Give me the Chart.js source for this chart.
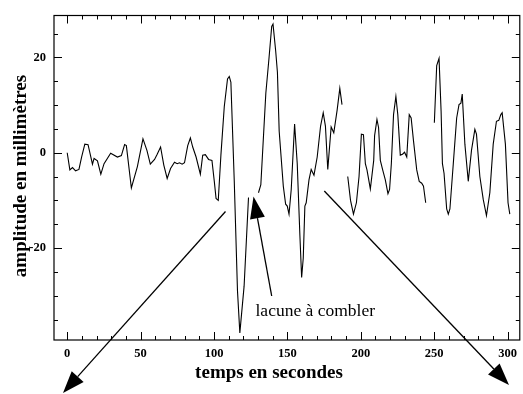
<!DOCTYPE html>
<html>
<head>
<meta charset="utf-8">
<script src="https://cdn.jsdelivr.net/npm/chart.js@4.4.1/dist/chart.umd.min.js"></script>
<style>
  html, body { margin: 0; padding: 0; background: #fff; }
  canvas { display: block; }
</style>
</head>
<body>
<canvas id="chart" width="523" height="394"></canvas>
<script>
// ── Data: seconds / amplitude (mm); null marks a gap in the record ──
const temps = [
  0, 1.8, 3.6, 5.7, 8, 9.8, 12, 14.2, 17.2, 18.3, 20.6, 22.9, 25.1, 29.6, 34.2, 36.9, 39.1, 40.3,
  43.7, 47.8, 51.6, 54.3, 56.6, 59.5, 61.3, 63.6, 65.8, 68.1, 70.4, 73.1, 74.9, 76.5, 78.3, 79.9,
  82.1, 83.9, 85.5, 87.8, 90.7, 92.3, 94.1, 96.3, 98.6, 100.2, 101.4, 102.9, 104.7, 107, 109.2,
  110.4, 111.5, 113.8, 116, 117.6, 120.5, 123.5,
  127,
  130.3, 131.9, 135.3, 137.5, 139.3, 140.2, 142, 143.2, 144.4, 147.2, 148.8, 149.9, 151.1, 152.6,
  154.9, 156.7, 158.5, 159.7, 160.8, 161.9, 162.8, 164.7, 166.2, 168.1, 170.3, 172.6, 174.4, 175.9,
  177.5, 179.8, 181.6, 183.9, 185.7, 187.2,
  189,
  191.1, 193, 195, 197, 198.8, 200.4, 201.8, 203.1, 204.2, 206.5, 208.8, 209.4, 211, 212.1, 213.3,
  214.9, 216.7, 218.5, 219.6, 220.8, 222.3, 223.9, 225.2, 226.9, 228.4, 229.8, 231.3, 233, 234.3,
  235.9, 238.1, 239.8, 241.5, 242.7, 244.2,
  247,
  250.1, 251.7, 253.3, 254.7, 255.6, 256.7, 258.5, 259.6, 260.7, 263, 265.3, 266.9, 268.2, 269.1,
  270.9, 273.2, 275.4, 277.7, 278.8, 281.1, 283.4, 285.6, 287.9, 290.2, 292.4, 294, 295.4, 296.3,
  298.5, 300.3, 301.5,
];
const amplitude = [
  0, -3.6, -3.1, -3.8, -3.5, -0.9, 1.8, 1.7, -2.4, -1.2, -1.7, -4.5, -2.3, -0.1, -0.9, -0.6, 1.7, 1.5,
  -7.4, -2.9, 2.9, 0.5, -2.4, -1.4, -0.3, 1.2, -2.6, -5.4, -3.3, -2, -2.3, -2.1, -2.4, -2.1,
  1.5, 3.1, 1.2, -0.9, -4.5, -0.5, -0.4, -1.4, -1.6, -6, -9.6, -10, -0.5, 9.7, 15.5,
  16, 14.8, -6, -29, -37.8, -28, -9.4,
  null,
  -8.4, -6.7, 12.5, 20, 26.5, 27, 21.4, 16.9, 4.5, -7, -10.8, -11.2, -12.9, -7.7,
  6, -2.3, -17.3, -26.2, -22.1, -11.2, -10.5, -5.7, -3.5, -4.7, -0.9, 5.6, 8.4, 5.6,
  -3.5, 5.4, 4.2, 9, 13.5, 10.1,
  null,
  -5, -10, -12.9, -10.5, -5, 3.9, 3.8, -2.3, -3.6, -7.6, -1.6, 3.6, 7, 5.3, -1.6,
  -3.6, -5.7, -8.6, -7.7, -2.3, 8, 11.8, 8, -0.5, -0.3, 0.1, -0.9, 8, 7.3,
  2.5, -3.6, -6, -6.4, -7, -10.5,
  null,
  6.3, 18.3, 19.8, 8.7, -2.3, -4.3, -11.8, -12.9, -11.8, -2.3, 7.3, 10.1, 10.4, 12.3,
  1.8, -6, 0.5, 4.9, 3.9, -5, -9.8, -13.2, -8.4, 1.8, 6.6, 6.8, 8, 8.4,
  1.8, -10.5, -12.9,
];
const xTicks = [0, 50, 100, 150, 200, 250, 300];
const yTicks = [-20, 0, 20];
const xMinorStep = 10;
const yMinorStep = 5;

const SERIF = "'Liberation Serif', 'Times New Roman', serif";

// ── Frame, inward ticks, titles and annotation arrows ─────────
function arrow(ctx, x1, y1, x2, y2, headLen, headW) {
  const ang = Math.atan2(y2 - y1, x2 - x1);
  const bx = x2 - headLen * Math.cos(ang), by = y2 - headLen * Math.sin(ang);
  ctx.beginPath();
  ctx.moveTo(x1, y1);
  ctx.lineTo(bx, by);
  ctx.stroke();
  ctx.beginPath();
  ctx.moveTo(x2, y2);
  ctx.lineTo(bx + headW / 2 * Math.sin(ang), by - headW / 2 * Math.cos(ang));
  ctx.lineTo(bx - headW / 2 * Math.sin(ang), by + headW / 2 * Math.cos(ang));
  ctx.closePath();
  ctx.fill();
}

const framePlugin = {
  id: 'frame',
  afterDraw(chart) {
    const { ctx, chartArea: a, scales: { x, y } } = chart;
    ctx.save();
    ctx.strokeStyle = '#000';
    ctx.fillStyle = '#000';
    ctx.lineWidth = 1.2;
    ctx.strokeRect(a.left, a.top, a.right - a.left, a.bottom - a.top);

    ctx.lineWidth = 1;
    ctx.beginPath();
    for (let v = Math.ceil(x.min / xMinorStep) * xMinorStep; v <= x.max; v += xMinorStep) {
      const px = Math.round(x.getPixelForValue(v)) + 0.5;
      const len = xTicks.includes(v) ? 8 : 4;
      ctx.moveTo(px, a.bottom); ctx.lineTo(px, a.bottom - len);
      ctx.moveTo(px, a.top);    ctx.lineTo(px, a.top + len);
    }
    for (let v = Math.ceil(y.min / yMinorStep) * yMinorStep; v <= y.max; v += yMinorStep) {
      const py = Math.round(y.getPixelForValue(v)) + 0.5;
      const len = yTicks.includes(v) ? 8 : 4;
      ctx.moveTo(a.left, py);  ctx.lineTo(a.left + len, py);
      ctx.moveTo(a.right, py); ctx.lineTo(a.right - len, py);
    }
    ctx.stroke();

    // axis titles
    ctx.font = `bold 19px ${SERIF}`;
    ctx.textAlign = 'center';
    ctx.textBaseline = 'alphabetic';
    ctx.fillText('temps en secondes', 269, 378);
    ctx.save();
    ctx.translate(26, 176);
    ctx.rotate(-Math.PI / 2);
    ctx.fillText('amplitude en millimètres', 0, 0);
    ctx.restore();

    // annotation
    ctx.font = `17.5px ${SERIF}`;
    ctx.textAlign = 'left';
    ctx.fillText('lacune à combler', 255.5, 316);

    ctx.lineWidth = 1.3;
    arrow(ctx, 225.5, 211.5, 63, 393, 22, 16);
    arrow(ctx, 271.7, 296, 253.5, 196.5, 22, 15);
    arrow(ctx, 324.3, 191, 509, 385, 22, 16);
    ctx.restore();
  },
};

const tickFont = { family: SERIF, weight: 'bold', size: 12.5 };

new Chart(document.getElementById('chart'), {
  type: 'line',
  data: {
    datasets: [{
      data: temps.map((t, i) => ({ x: t, y: amplitude[i] })),
      borderColor: '#000',
      borderWidth: 1.1,
      pointRadius: 0,
      tension: 0,
      spanGaps: false,
    }],
  },
  options: {
    responsive: false,
    animation: false,
    devicePixelRatio: 1,
    layout: { padding: { top: 9, right: 1, left: 0, bottom: 0 } },
    plugins: { legend: { display: false }, tooltip: { enabled: false } },
    scales: {
      x: {
        type: 'linear',
        min: -9,
        max: 308.3,
        grid: { display: false, drawTicks: false },
        border: { display: false },
        afterFit: s => { s.height = 54; },
        afterBuildTicks: s => { s.ticks = xTicks.map(v => ({ value: v })); },
        ticks: { color: '#000', font: tickFont, padding: 6, maxRotation: 0, autoSkip: false },
      },
      y: {
        type: 'linear',
        min: -39.3,
        max: 28.8,
        grid: { display: false, drawTicks: false },
        border: { display: false },
        afterFit: s => { s.width = 54; },
        afterBuildTicks: s => { s.ticks = yTicks.map(v => ({ value: v })); },
        ticks: { color: '#000', font: tickFont, padding: 8 },
      },
    },
  },
  plugins: [framePlugin],
});
</script>
</body>
</html>
